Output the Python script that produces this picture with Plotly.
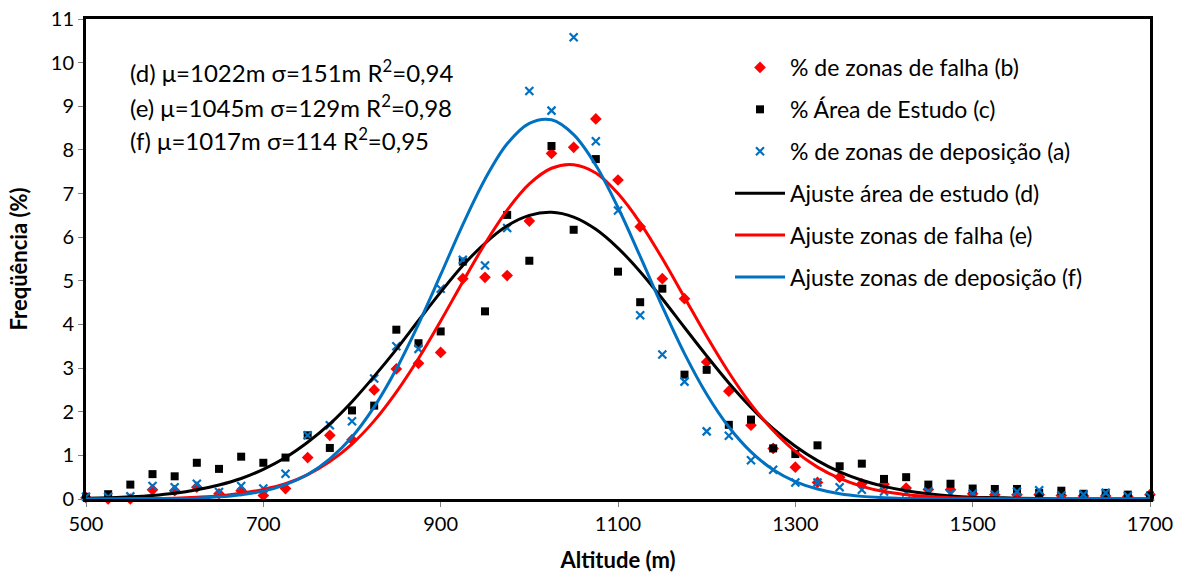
import plotly.graph_objects as go

# Altitude classes (m)
altitude = [500, 525, 550, 575, 600, 625, 650, 675, 700, 725, 750, 775, 800, 825, 850,
            875, 900, 925, 950, 975, 1000, 1025, 1050, 1075, 1100, 1125, 1150, 1175, 1200,
            1225, 1250, 1275, 1300, 1325, 1350, 1375, 1400, 1425, 1450, 1475, 1500, 1525,
            1550, 1575, 1600, 1625, 1650, 1675, 1700]

# % de zonas de falha (b)
falha = [0.03, 0.00, 0.00, 0.21, 0.19, 0.27, 0.12, 0.19, 0.08, 0.24, 0.95, 1.46, 1.36, 2.50,
         2.98, 3.11, 3.36, 5.05, 5.08, 5.12, 6.37, 7.92, 8.06, 8.71, 7.31, 6.24, 5.05, 4.59,
         3.14, 2.47, 1.69, 1.16, 0.73, 0.38, 0.50, 0.35, 0.34, 0.25, 0.22, 0.21, 0.12, 0.10,
         0.10, 0.10, 0.08, 0.07, 0.07, 0.06, 0.10]

# % Área de Estudo (c)
area = [0.05, 0.11, 0.33, 0.57, 0.52, 0.83, 0.69, 0.97, 0.83, 0.95, 1.46, 1.17, 2.03, 2.14,
        3.88, 3.57, 3.84, 5.44, 4.30, 6.51, 5.46, 8.09, 6.17, 7.79, 5.21, 4.51, 4.82, 2.85,
        2.96, 1.70, 1.82, 1.16, 1.03, 1.23, 0.75, 0.81, 0.46, 0.50, 0.33, 0.35, 0.24, 0.23,
        0.23, 0.14, 0.19, 0.12, 0.14, 0.10, 0.08]

# % de zonas de deposição (a)
deposicao = [0.05, 0.05, 0.06, 0.30, 0.27, 0.35, 0.16, 0.30, 0.24, 0.58, 1.46, 1.69, 1.78,
             2.76, 3.50, 3.44, 4.82, 5.48, 5.35, 6.21, 9.35, 8.90, 10.58, 8.20, 6.61, 4.21,
             3.31, 2.69, 1.55, 1.45, 0.89, 0.67, 0.38, 0.38, 0.27, 0.21, 0.17, 0.15, 0.17,
             0.12, 0.12, 0.10, 0.17, 0.20, 0.08, 0.10, 0.14, 0.07, 0.05]

# Fitted curves
ajuste_area = [0.02, 0.03, 0.05, 0.08, 0.13, 0.21, 0.32, 0.47, 0.68, 0.95, 1.30, 1.72, 2.23,
               2.81, 3.43, 4.09, 4.74, 5.35, 5.86, 6.26, 6.50, 6.57, 6.46, 6.18, 5.75, 5.21,
               4.59, 3.93, 3.28, 2.66, 2.10, 1.61, 1.21, 0.88, 0.62, 0.43, 0.29, 0.19, 0.12,
               0.07, 0.04, 0.03, 0.02, 0.01, 0.00, 0.00, 0.00, 0.00, 0.00]
ajuste_falha = [0.00, 0.00, 0.01, 0.01, 0.02, 0.04, 0.07, 0.13, 0.22, 0.35, 0.56, 0.86, 1.26,
                1.79, 2.45, 3.22, 4.08, 4.98, 5.85, 6.62, 7.22, 7.58, 7.66, 7.47, 7.00, 6.33,
                5.51, 4.62, 3.73, 2.90, 2.17, 1.57, 1.09, 0.73, 0.47, 0.29, 0.17, 0.10, 0.06,
                0.03, 0.02, 0.01, 0.00, 0.00, 0.00, 0.00, 0.00, 0.00, 0.00]
ajuste_deposicao = [0.00, 0.00, 0.00, 0.01, 0.01, 0.02, 0.05, 0.10, 0.18, 0.33, 0.56, 0.92,
                    1.42, 2.11, 2.98, 4.01, 5.14, 6.29, 7.33, 8.14, 8.61, 8.69, 8.35, 7.65,
                    6.68, 5.56, 4.41, 3.33, 2.40, 1.65, 1.08, 0.67, 0.40, 0.23, 0.12, 0.06,
                    0.03, 0.01, 0.01, 0.00, 0.00, 0.00, 0.00, 0.00, 0.00, 0.00, 0.00, 0.00, 0.00]

x_ticks = [500, 700, 900, 1100, 1300, 1500, 1700]
y_ticks = list(range(0, 12))

annot_lines = ["(d) μ=1022m σ=151m R<sup>2</sup>=0,94",
               "(e) μ=1045m σ=129m R<sup>2</sup>=0,98",
               "(f) μ=1017m σ=114 R<sup>2</sup>=0,95"]

RED = "#FF0000"
BLUE = "#0070C0"
FONT = "Lato"

L, R, T, B = 86, 33, 19, 74
PW, PH = 1183 - L - R, 573 - T - B

fig = go.Figure()
fig.add_trace(go.Scatter(x=altitude, y=falha, mode="markers", name="% de zonas de falha (b)",
                         legendgroup="b", cliponaxis=False,
                         marker=dict(symbol="diamond", size=9, color=RED)))
fig.add_trace(go.Scatter(x=altitude, y=area, mode="markers", name="% Área de Estudo (c)",
                         legendgroup="c", cliponaxis=False,
                         marker=dict(symbol="square", size=8, color="black")))
fig.add_trace(go.Scatter(x=altitude, y=deposicao, mode="markers",
                         name="% de zonas de deposição (a)", legendgroup="a", cliponaxis=False,
                         marker=dict(symbol="x-thin", size=8, color=BLUE,
                                     line=dict(color=BLUE, width=2.2))))
fig.add_trace(go.Scatter(x=altitude, y=ajuste_area, mode="lines",
                         name="Ajuste área de estudo (d)", legendgroup="d",
                         line=dict(color="black", width=3, shape="spline")))
fig.add_trace(go.Scatter(x=altitude, y=ajuste_falha, mode="lines",
                         name="Ajuste zonas de falha (e)", legendgroup="e",
                         line=dict(color=RED, width=3, shape="spline")))
fig.add_trace(go.Scatter(x=altitude, y=ajuste_deposicao, mode="lines",
                         name="Ajuste zonas de deposição (f)", legendgroup="f",
                         line=dict(color=BLUE, width=3, shape="spline")))

for i, (t, yc) in enumerate(zip(annot_lines, [71, 106, 139])):
    fig.add_annotation(text=t, xref="paper", yref="paper", x=(128 - L) / PW,
                       y=(573 - B - yc) / PH, xanchor="left", yanchor="middle",
                       showarrow=False, font=dict(family=FONT, size=24, color="black"))

fig.update_layout(
    width=1183, height=573,
    margin=dict(l=L, r=R, t=T, b=B),
    paper_bgcolor="white", plot_bgcolor="white",
    font=dict(family=FONT, size=20, color="black"),
    showlegend=True,
    legend=dict(x=(730 - L) / PW, y=(573 - B - 46) / PH, xanchor="left", yanchor="top",
                bgcolor="rgba(0,0,0,0)", font=dict(family=FONT, size=23, color="black"),
                traceorder="grouped", tracegroupgap=9, itemwidth=50),
    xaxis=dict(range=[500, 1700], tickvals=x_ticks, ticktext=[str(v) for v in x_ticks],
               showgrid=False, zeroline=False, showline=True, linecolor="black",
               linewidth=3, mirror=True, ticks="outside", ticklen=5, tickcolor="#808080",
               tickfont=dict(family=FONT, size=20), automargin=False,
               title=dict(text="<b>Altitude (m)</b>", font=dict(family=FONT, size=22),
                          standoff=24)),
    yaxis=dict(range=[0, 11], tickvals=y_ticks, showgrid=False, zeroline=False,
               showline=True, linecolor="black", linewidth=3, mirror=True,
               ticks="outside", ticklen=5, tickcolor="#808080",
               tickfont=dict(family=FONT, size=20), automargin=False,
               title=dict(text="<b>Freqüência (%)</b>", font=dict(family=FONT, size=22),
                          standoff=18)),
)

fig.write_html("out.html", config={"displayModeBar": False},
               post_script="document.body.style.margin='0';document.body.style.overflow='hidden';")
